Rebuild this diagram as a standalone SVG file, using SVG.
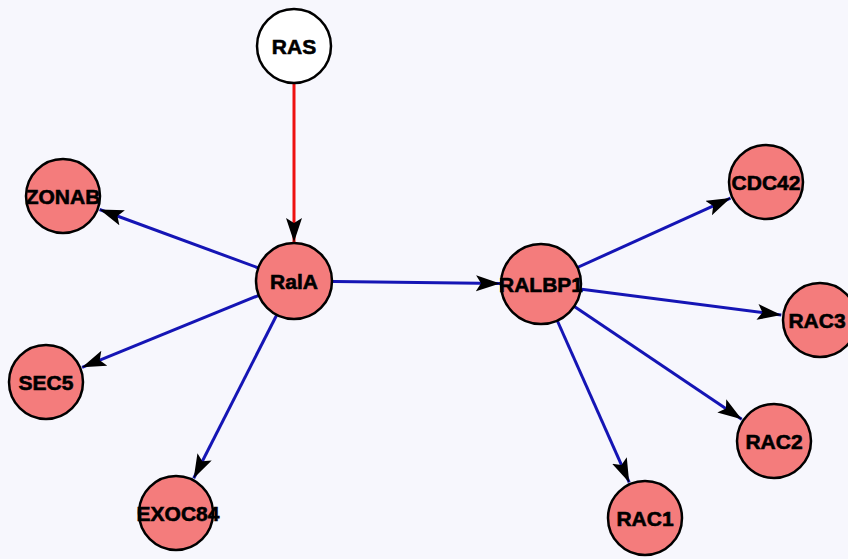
<svg xmlns="http://www.w3.org/2000/svg" width="848" height="559" viewBox="0 0 848 559">
<style>
.bg{fill:#f7f7fd}
.n{fill:#f47c7c;stroke:#000;stroke-width:2.5}
.w{fill:#fff;stroke:#000;stroke-width:2.5}
.t{font-family:"Liberation Sans",Arial,sans-serif;font-weight:bold;font-size:21px;fill:#000;stroke:#000;stroke-width:0.6;text-anchor:middle}
.e{stroke:#1515b5;stroke-width:3;fill:none}
.r{stroke:#ee1111;stroke-width:3;fill:none}
</style>
<defs>
<marker id="ah" markerUnits="userSpaceOnUse" markerWidth="26" markerHeight="18" refX="24" refY="8" orient="auto">
<path d="M0,0 L24,8 L0,16 L5,8 z" fill="#000"/>
</marker>
</defs>
<rect class="bg" x="0" y="0" width="848" height="559"/>
<g id="connectors">
<line class="r" x1="294" y1="84" x2="294" y2="242" marker-end="url(#ah)"/>
<line class="e" x1="294" y1="281" x2="99.6" y2="209.5" marker-end="url(#ah)"/>
<line class="e" x1="294" y1="281" x2="82.1" y2="367.3" marker-end="url(#ah)"/>
<line class="e" x1="294" y1="281" x2="193.7" y2="478.2" marker-end="url(#ah)"/>
<line class="e" x1="294" y1="281" x2="500" y2="283.5" marker-end="url(#ah)"/>
<line class="e" x1="541" y1="284" x2="730.5" y2="198.1" marker-end="url(#ah)"/>
<line class="e" x1="541" y1="284" x2="781.3" y2="315" marker-end="url(#ah)"/>
<line class="e" x1="541" y1="284" x2="741.7" y2="419.2" marker-end="url(#ah)"/>
<line class="e" x1="541" y1="284" x2="629.2" y2="482.4" marker-end="url(#ah)"/>
</g>
<g id="RAS"><circle class="w" cx="294" cy="46" r="37"/><text class="t" x="294" y="54">RAS</text></g>
<g id="RalA"><circle class="n" cx="294" cy="281" r="38"/><text class="t" x="294" y="289">RalA</text></g>
<g id="ZONAB"><circle class="n" cx="63" cy="196" r="37"/><text class="t" x="63" y="204">ZONAB</text></g>
<g id="SEC5"><circle class="n" cx="46" cy="382" r="37"/><text class="t" x="46" y="390">SEC5</text></g>
<g id="EXOC84"><circle class="n" cx="176" cy="513" r="37"/><text class="t" x="178" y="521">EXOC84</text></g>
<g id="RALBP1"><circle class="n" cx="541" cy="284" r="40"/><text class="t" x="541" y="292">RALBP1</text></g>
<g id="CDC42"><circle class="n" cx="766" cy="182" r="37"/><text class="t" x="766" y="190">CDC42</text></g>
<g id="RAC3"><circle class="n" cx="820" cy="320" r="37"/><text class="t" x="817" y="328">RAC3</text></g>
<g id="RAC2"><circle class="n" cx="774" cy="441" r="37"/><text class="t" x="774" y="449">RAC2</text></g>
<g id="RAC1"><circle class="n" cx="645" cy="518" r="37"/><text class="t" x="645" y="526">RAC1</text></g>
</svg>
